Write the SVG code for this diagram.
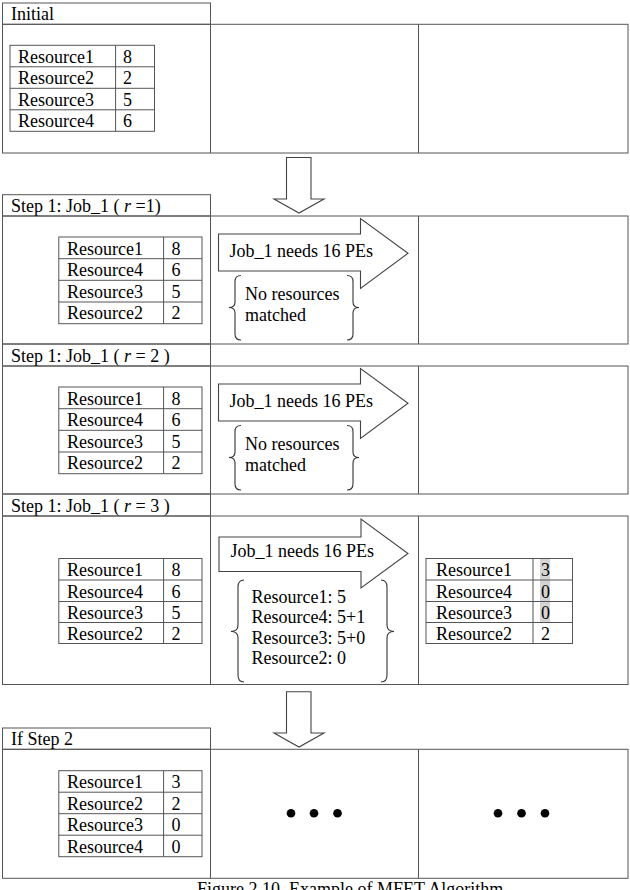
<svg xmlns="http://www.w3.org/2000/svg" width="630" height="890" viewBox="0 0 630 890">
<style>
text{font-family:'Liberation Serif','DejaVu Serif',serif;font-size:18px;fill:#000}
.cap{font-size:18px}
.box{fill:none;stroke:#555;stroke-width:1}
.tbl{fill:#fff;stroke:#555;stroke-width:1}
.arr{fill:#fff;stroke:#444;stroke-width:1.1;stroke-linejoin:miter}
.br{fill:none;stroke:#333;stroke-width:1.1}
.dot{fill:#000}
</style>
<rect width="630" height="890" fill="#fff"/>

<!-- Initial -->
<g id="initial">
  <rect class="box" x="2.5" y="3" width="208" height="21.3"/>
  <text x="11" y="19.5">Initial</text>
  <rect class="box" x="2.5" y="24.3" width="625.5" height="128.7"/>
  <line class="box" x1="210.5" y1="24.3" x2="210.5" y2="153"/>
  <line class="box" x1="418.5" y1="24.3" x2="418.5" y2="153"/>
  <g id="initial-table">
    <rect class="tbl" x="10" y="45.3" width="144.5" height="86"/>
    <line class="box" x1="115.6" y1="45.3" x2="115.6" y2="131.3"/>
    <line class="box" x1="10" y1="66.8" x2="154.5" y2="66.8"/>
    <line class="box" x1="10" y1="88.3" x2="154.5" y2="88.3"/>
    <line class="box" x1="10" y1="109.8" x2="154.5" y2="109.8"/>
    <text x="18" y="62.5">Resource1</text><text x="123" y="62.5">8</text>
    <text x="18" y="84">Resource2</text><text x="123" y="84">2</text>
    <text x="18" y="105.5">Resource3</text><text x="123" y="105.5">5</text>
    <text x="18" y="127">Resource4</text><text x="123" y="127">6</text>
  </g>
</g>

<!-- Step 1 r=1 -->
<g id="step1-r1">
  <rect class="box" x="2.5" y="194.7" width="208" height="21.3"/>
  <text x="11" y="211.5">Step 1: Job_1 ( <tspan font-style="italic">r</tspan> =1)</text>
  <rect class="box" x="2.5" y="216" width="625.5" height="128"/>
  <line class="box" x1="210.5" y1="216" x2="210.5" y2="344"/>
  <line class="box" x1="418.5" y1="216" x2="418.5" y2="344"/>
  <g id="r1-table">
    <rect class="tbl" x="58.8" y="237" width="143.2" height="86.7"/>
    <line class="box" x1="163.6" y1="237" x2="163.6" y2="323.7"/>
    <line class="box" x1="58.8" y1="258.7" x2="202" y2="258.7"/>
    <line class="box" x1="58.8" y1="280.3" x2="202" y2="280.3"/>
    <line class="box" x1="58.8" y1="302" x2="202" y2="302"/>
    <text x="67" y="254.5">Resource1</text><text x="171.5" y="254.5">8</text>
    <text x="67" y="276">Resource4</text><text x="171.5" y="276">6</text>
    <text x="67" y="297.7">Resource3</text><text x="171.5" y="297.7">5</text>
    <text x="67" y="319.3">Resource2</text><text x="171.5" y="319.3">2</text>
  </g>
  <g id="r1-arrow">
    <polygon class="arr" points="218.5,234 360.5,234 360.5,218.5 408,253.3 360.5,288.5 360.5,271 218.5,271"/>
    <text x="229.5" y="257">Job_1 needs 16 PEs</text>
  </g>
  <g id="r1-brace">
    <path class="br" d="M241,275.5 Q235,275.5 235,281.5 L235,302 Q235,307.5 229,307.5 Q235,307.5 235,313 L235,334 Q235,340 241,340"/>
    <path class="br" d="M347,275.5 Q353,275.5 353,281.5 L353,302 Q353,307.5 359,307.5 Q353,307.5 353,313 L353,334 Q353,340 347,340"/>
    <text x="245" y="299.5">No resources</text>
    <text x="245" y="320.5">matched</text>
  </g>
</g>

<!-- Step 1 r=2 -->
<g id="step1-r2">
  <rect class="box" x="2.5" y="344" width="208" height="22"/>
  <text x="11" y="361.5">Step 1: Job_1 ( <tspan font-style="italic">r</tspan> = 2 )</text>
  <rect class="box" x="2.5" y="366" width="625.5" height="128"/>
  <line class="box" x1="210.5" y1="366" x2="210.5" y2="494"/>
  <line class="box" x1="418.5" y1="366" x2="418.5" y2="494"/>
  <g id="r2-table">
    <rect class="tbl" x="58.8" y="387" width="143.2" height="86.7"/>
    <line class="box" x1="163.6" y1="387" x2="163.6" y2="473.7"/>
    <line class="box" x1="58.8" y1="408.7" x2="202" y2="408.7"/>
    <line class="box" x1="58.8" y1="430.3" x2="202" y2="430.3"/>
    <line class="box" x1="58.8" y1="452" x2="202" y2="452"/>
    <text x="67" y="404.5">Resource1</text><text x="171.5" y="404.5">8</text>
    <text x="67" y="426">Resource4</text><text x="171.5" y="426">6</text>
    <text x="67" y="447.7">Resource3</text><text x="171.5" y="447.7">5</text>
    <text x="67" y="469.3">Resource2</text><text x="171.5" y="469.3">2</text>
  </g>
  <g id="r2-arrow">
    <polygon class="arr" points="218.5,384 360.5,384 360.5,368.5 408,403.3 360.5,438.5 360.5,421 218.5,421"/>
    <text x="229.5" y="407">Job_1 needs 16 PEs</text>
  </g>
  <g id="r2-brace">
    <path class="br" d="M241,425.5 Q235,425.5 235,431.5 L235,452 Q235,457.5 229,457.5 Q235,457.5 235,463 L235,484 Q235,490 241,490"/>
    <path class="br" d="M347,425.5 Q353,425.5 353,431.5 L353,452 Q353,457.5 359,457.5 Q353,457.5 353,463 L353,484 Q353,490 347,490"/>
    <text x="245" y="449.5">No resources</text>
    <text x="245" y="470.5">matched</text>
  </g>
</g>

<!-- Step 1 r=3 -->
<g id="step1-r3">
  <rect class="box" x="2.5" y="494" width="208" height="22"/>
  <text x="11" y="511.5">Step 1: Job_1 ( <tspan font-style="italic">r</tspan> = 3 )</text>
  <rect class="box" x="2.5" y="516" width="625.5" height="168.5"/>
  <line class="box" x1="210.5" y1="516" x2="210.5" y2="684.5"/>
  <line class="box" x1="418.5" y1="516" x2="418.5" y2="684.5"/>
  <g id="r3-table">
    <rect class="tbl" x="58.8" y="558.5" width="143.2" height="85"/>
    <line class="box" x1="163.6" y1="558.5" x2="163.6" y2="643.5"/>
    <line class="box" x1="58.8" y1="580" x2="202" y2="580"/>
    <line class="box" x1="58.8" y1="601.5" x2="202" y2="601.5"/>
    <line class="box" x1="58.8" y1="622.5" x2="202" y2="622.5"/>
    <text x="67" y="576">Resource1</text><text x="171.5" y="576">8</text>
    <text x="67" y="597.5">Resource4</text><text x="171.5" y="597.5">6</text>
    <text x="67" y="618.7">Resource3</text><text x="171.5" y="618.7">5</text>
    <text x="67" y="639.5">Resource2</text><text x="171.5" y="639.5">2</text>
  </g>
  <g id="r3-arrow">
    <polygon class="arr" points="219,537 361,537 361,519 408,553.5 361,588 361,571.5 219,571.5"/>
    <text x="230.5" y="556.5">Job_1 needs 16 PEs</text>
  </g>
  <g id="r3-brace">
    <path class="br" d="M244,580 Q238,580 238,587 L238,625 Q238,631.5 231,631.5 Q238,631.5 238,638 L238,675 Q238,682 244,682"/>
    <path class="br" d="M381,580 Q387,580 387,587 L387,625 Q387,631.5 394,631.5 Q387,631.5 387,638 L387,675 Q387,682 381,682"/>
    <text x="251.5" y="602.5">Resource1: 5</text>
    <text x="251.5" y="623">Resource4: 5+1</text>
    <text x="251.5" y="643.5">Resource3: 5+0</text>
    <text x="251.5" y="664">Resource2: 0</text>
  </g>
  <g id="r3-result">
    <rect class="tbl" x="426" y="558.5" width="146.5" height="85"/>
    <rect x="540" y="559" width="10" height="63" fill="#d4d4d4"/>
    <line class="box" x1="533" y1="558.5" x2="533" y2="643.5"/>
    <line class="box" x1="426" y1="580" x2="572.5" y2="580"/>
    <line class="box" x1="426" y1="601.5" x2="572.5" y2="601.5"/>
    <line class="box" x1="426" y1="622.5" x2="572.5" y2="622.5"/>
    <text x="436" y="576">Resource1</text><text x="541" y="576">3</text>
    <text x="436" y="597.5">Resource4</text><text x="541" y="597.5">0</text>
    <text x="436" y="618.7">Resource3</text><text x="541" y="618.7">0</text>
    <text x="436" y="639.5">Resource2</text><text x="541" y="639.5">2</text>
  </g>
</g>

<!-- If Step 2 -->
<g id="step2">
  <rect class="box" x="2.5" y="728" width="208" height="21.3"/>
  <text x="11" y="745">If Step 2</text>
  <rect class="box" x="2.5" y="749.3" width="625.5" height="129"/>
  <line class="box" x1="210.5" y1="749.3" x2="210.5" y2="878.3"/>
  <line class="box" x1="418.5" y1="749.3" x2="418.5" y2="878.3"/>
  <g id="step2-table">
    <rect class="tbl" x="58.8" y="770.7" width="143.2" height="86"/>
    <line class="box" x1="163.6" y1="770.7" x2="163.6" y2="856.7"/>
    <line class="box" x1="58.8" y1="792.2" x2="202" y2="792.2"/>
    <line class="box" x1="58.8" y1="813.7" x2="202" y2="813.7"/>
    <line class="box" x1="58.8" y1="835.2" x2="202" y2="835.2"/>
    <text x="67" y="788">Resource1</text><text x="171.5" y="788">3</text>
    <text x="67" y="809.5">Resource2</text><text x="171.5" y="809.5">2</text>
    <text x="67" y="831">Resource3</text><text x="171.5" y="831">0</text>
    <text x="67" y="852.5">Resource4</text><text x="171.5" y="852.5">0</text>
  </g>
  <g id="step2-dots">
    <circle class="dot" cx="291" cy="813.3" r="4.3"/>
    <circle class="dot" cx="314" cy="813.3" r="4.3"/>
    <circle class="dot" cx="337.5" cy="813.3" r="4.3"/>
    <circle class="dot" cx="498" cy="813.3" r="4.3"/>
    <circle class="dot" cx="521.5" cy="813.3" r="4.3"/>
    <circle class="dot" cx="545" cy="813.3" r="4.3"/>
  </g>
</g>

<!-- Connectors -->
<g id="connectors">
  <polygon class="arr" points="286.5,157.5 311,157.5 311,199 324,199 299,213 274,199 286.5,199"/>
  <polygon class="arr" points="286.5,691.7 311,691.7 311,733 324,733 299,747 274,733 286.5,733"/>
</g>

<text class="cap" x="197" y="895">Figure 2.10. Example of MFET Algorithm</text>
</svg>
